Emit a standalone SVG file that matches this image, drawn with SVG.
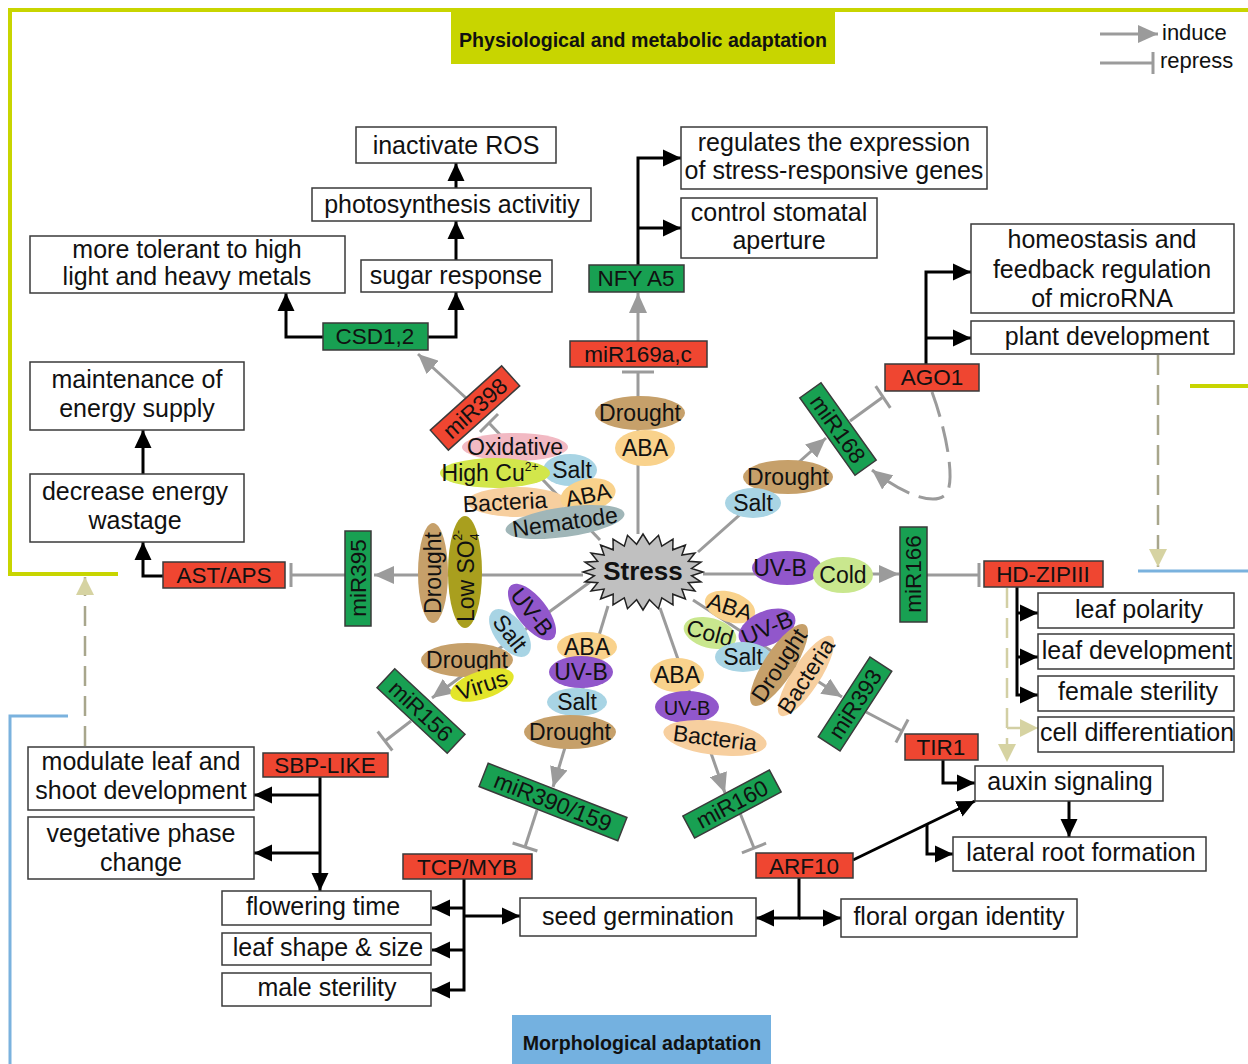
<svg xmlns="http://www.w3.org/2000/svg" width="1248" height="1064" viewBox="0 0 1248 1064">
<defs>
<style>
text{font-family:"Liberation Sans",Arial,sans-serif;fill:#111;text-anchor:middle}
.bt{font-size:25px}
.lt{font-size:22.5px}
.et{font-size:23px}
.hd{font-size:19.6px;font-weight:bold}
.box{fill:#fff;stroke:#3a3a3a;stroke-width:1.5}
.red{fill:#ef4631;stroke:#3a3a3a;stroke-width:1.5}
.grn{fill:#18a052;stroke:#3a3a3a;stroke-width:1.5}
.g{stroke:#9b9b9b;stroke-width:3;fill:none}
.gd{stroke:#9b9b9b;stroke-width:3;fill:none;stroke-dasharray:26 10}
.k{stroke:#000;stroke-width:3;fill:none}
.d{stroke:#a8a68c;stroke-width:2.5;fill:none;stroke-dasharray:20 10}
.d2{stroke:#d2cfa4;stroke-width:2.5;fill:none;stroke-dasharray:20 10}
.dr{fill:#c6a06a}.ab{fill:#f9d28c}.sa{fill:#a8d4e4}.uv{fill:#9157cb}.co{fill:#c9e78e}
.ba{fill:#f7cf9f}.ox{fill:#f2b9c3}.cu{fill:#d2e64b}.ne{fill:#a0b6b8}.so{fill:#a99f1e}.vi{fill:#e3e52b}
</style>
<marker id="mk" viewBox="0 0 18 18" refX="18" refY="9" markerWidth="18" markerHeight="18" markerUnits="userSpaceOnUse" orient="auto"><path d="M0,0.5 L18,9 L0,17.5 z" fill="#000"/></marker>
<marker id="mg" viewBox="0 0 20 18" refX="20" refY="9" markerWidth="20" markerHeight="18" markerUnits="userSpaceOnUse" orient="auto"><path d="M0,0 L20,9 L0,18 z" fill="#9b9b9b"/></marker>
<marker id="mh" viewBox="0 0 18 18" refX="18" refY="9" markerWidth="18" markerHeight="18" markerUnits="userSpaceOnUse" orient="auto"><path d="M0,0 L18,9 L0,18 z" fill="#d6d3a2"/></marker>
</defs>
<rect width="1248" height="1064" fill="#fff"/>

<g id="frames">
<path d="M118,574 H10 V10 H1248" stroke="#c8d500" stroke-width="4" fill="none"/>
<path d="M1190,386 H1248" stroke="#c8d500" stroke-width="4" fill="none"/>
<path d="M68,716 H10 V1064" stroke="#7ab2de" stroke-width="3" fill="none"/>
<path d="M1138,571 H1248" stroke="#7ab2de" stroke-width="3" fill="none"/>
</g>
<g id="title-physio"><rect x="451" y="12" width="384" height="52" fill="#c8d500"/><text class="hd" x="643" y="47">Physiological and metabolic adaptation</text></g>
<g id="title-morph"><rect x="512" y="1015" width="259" height="49" fill="#74b1e0"/><text class="hd" x="642" y="1050">Morphological adaptation</text></g>
<g id="legend">
<line class="g" x1="1100" y1="34" x2="1158" y2="34" marker-end="url(#mg)"/>
<text x="1162" y="40" style="font-size:22px;text-anchor:start">induce</text>
<line class="g" x1="1100" y1="63" x2="1153" y2="63"/>
<line class="g" x1="1153" y1="52" x2="1153" y2="74"/>
<text x="1160" y="68" style="font-size:22px;text-anchor:start">repress</text>
</g>

<g id="connectors">
<line class="g" x1="638" y1="534" x2="638" y2="372"/>
<line class="g" x1="622" y1="372" x2="654" y2="372"/>
<line class="g" x1="638" y1="341" x2="638" y2="293" marker-end="url(#mg)"/>
<line class="g" x1="600" y1="540" x2="489" y2="423"/>
<line class="g" x1="480" y1="432" x2="498" y2="414"/>
<line class="g" x1="466" y1="398" x2="418" y2="354" marker-end="url(#mg)"/>
<line class="g" x1="698" y1="552" x2="826" y2="438" marker-end="url(#mg)"/>
<line class="g" x1="850" y1="421" x2="883" y2="397"/>
<line class="g" x1="875.7" y1="386.2" x2="890.3" y2="407.8"/>
<path class="gd" d="M932,392 C946,430 956,482 946,494 C936,506 905,496 872,470" marker-end="url(#mg)"/>
<line class="g" x1="703" y1="574" x2="899" y2="574" marker-end="url(#mg)"/>
<line class="g" x1="927" y1="575" x2="979" y2="575"/>
<line class="g" x1="979" y1="563" x2="979" y2="587"/>
<line class="g" x1="583" y1="575" x2="374" y2="575" marker-end="url(#mg)"/>
<line class="g" x1="345" y1="575" x2="291" y2="575"/>
<line class="g" x1="291" y1="563" x2="291" y2="587"/>
<line class="g" x1="590" y1="582" x2="432" y2="698" marker-end="url(#mg)"/>
<line class="g" x1="411" y1="721" x2="385" y2="741"/>
<line class="g" x1="377.7" y1="731.5" x2="392.3" y2="750.5"/>
<line class="g" x1="608" y1="606" x2="553" y2="787" marker-end="url(#mg)"/>
<line class="g" x1="537" y1="810" x2="525" y2="847"/>
<line class="g" x1="512.6" y1="843" x2="537.4" y2="851"/>
<line class="g" x1="660" y1="608" x2="725" y2="793" marker-end="url(#mg)"/>
<line class="g" x1="740" y1="813" x2="754" y2="848"/>
<line class="g" x1="741.9" y1="852.8" x2="766.1" y2="843.2"/>
<line class="g" x1="693" y1="600" x2="842" y2="697" marker-end="url(#mg)"/>
<line class="g" x1="866" y1="712" x2="902" y2="731"/>
<line class="g" x1="908.1" y1="719.5" x2="895.9" y2="742.5"/>
<path class="k" d="M323,337 H286 V293" marker-end="url(#mk)"/>
<path class="k" d="M428,337 H456 V292" marker-end="url(#mk)"/>
<path class="k" d="M456,260 V221" marker-end="url(#mk)"/>
<path class="k" d="M456,188 V163" marker-end="url(#mk)"/>
<path class="k" d="M638,265 V158 H681" marker-end="url(#mk)"/>
<path class="k" d="M638,228 H681" marker-end="url(#mk)"/>
<path class="k" d="M926,364 V272 H971" marker-end="url(#mk)"/>
<path class="k" d="M926,338 H971" marker-end="url(#mk)"/>
<path class="k" d="M163,576 H143 V542" marker-end="url(#mk)"/>
<path class="k" d="M143,474 V430" marker-end="url(#mk)"/>
<path class="k" d="M320,777 V891" marker-end="url(#mk)"/>
<path class="k" d="M320,795 H254" marker-end="url(#mk)"/>
<path class="k" d="M320,853 H254" marker-end="url(#mk)"/>
<path class="k" d="M464,879 V990 H432" marker-end="url(#mk)"/>
<path class="k" d="M464,908 H432" marker-end="url(#mk)"/>
<path class="k" d="M464,950 H432" marker-end="url(#mk)"/>
<path class="k" d="M464,916 H520" marker-end="url(#mk)"/>
<path class="k" d="M799,878 V918 H756" marker-end="url(#mk)"/>
<path class="k" d="M799,918 H841" marker-end="url(#mk)"/>
<path class="k" d="M853,860 L975,801" marker-end="url(#mk)"/>
<path class="k" d="M927,824 V854 H953" marker-end="url(#mk)"/>
<path class="k" d="M943,760 V783 H975" marker-end="url(#mk)"/>
<path class="k" d="M1069,801 V837" marker-end="url(#mk)"/>
<path class="k" d="M1017,587 V695 H1038" marker-end="url(#mk)"/>
<path class="k" d="M1017,613 H1038" marker-end="url(#mk)"/>
<path class="k" d="M1017,657 H1038" marker-end="url(#mk)"/>
<path class="d" d="M1158,355 V567" marker-end="url(#mh)"/>
<path class="d2" d="M1007,588 V762" marker-end="url(#mh)"/>
<path class="d2" d="M1007,728 H1038" marker-end="url(#mh)"/>
<path class="d" d="M85,746 V577" marker-end="url(#mh)"/>
</g>

<g id="stress">
<polygon points="703,572 691.6,575.7 701,581.8 688.3,582.7 695,591 681.9,589.1 685.4,598.9 672.8,594.2 673,604.9 661.8,597.9 658.5,608.7 649.4,599.8 643,610 636.6,599.8 627.5,608.7 624.3,597.9 613,604.9 613.2,594.2 600.6,598.9 604.1,589.1 591,591 597.7,582.7 585,581.8 594.4,575.7 583,572 594.4,568.4 585,562.2 597.7,561.3 591,553 604.1,555 600.6,545.1 613.2,549.8 613,539.1 624.3,546.1 627.5,535.3 636.6,544.2 643,534 649.4,544.2 658.5,535.3 661.8,546.1 673,539.1 672.8,549.8 685.4,545.1 681.9,555 695,553 688.3,561.3 701,562.2 691.6,568.4" fill="#c0c0c0" stroke="#222" stroke-width="1.5"/>
<text x="643" y="580" style="font-size:26px;font-weight:bold">Stress</text>
</g>

<g id="f-drought-top"><ellipse class="dr" cx="640" cy="413" rx="45" ry="17"/><text class="et" x="640" y="421">Drought</text></g>
<g id="f-aba-top"><ellipse class="ab" cx="645" cy="448" rx="30" ry="18"/><text class="et" x="645" y="456">ABA</text></g>

<g id="f-oxidative"><ellipse class="ox" cx="515" cy="447" rx="53" ry="14"/><text class="et" x="515" y="455">Oxidative</text></g>
<g id="f-salt-ul"><ellipse class="sa" cx="570" cy="470" rx="27" ry="16"/><text class="et" x="572" y="478">Salt</text></g>
<g id="f-highcu"><ellipse class="cu" cx="495" cy="473" rx="55" ry="15"/><text class="et" x="490" y="481">High Cu<tspan font-size="12" dy="-10">2+</tspan></text></g>
<g id="f-bacteria-ul"><ellipse class="ba" cx="517" cy="502" rx="50" ry="15"/><text class="et" x="505" y="510" transform="rotate(-3 505 502)">Bacteria</text></g>
<g id="f-aba-ul" transform="translate(588,495) rotate(-12)"><ellipse class="ab" rx="28" ry="16"/><text class="et" y="8">ABA</text></g>
<g id="f-nematode" transform="translate(565,522) rotate(-8)"><ellipse class="ne" rx="60" ry="15"/><text class="et" y="8">Nematode</text></g>

<g id="f-drought-left" transform="translate(433,573) rotate(-90)"><ellipse class="dr" rx="50" ry="15"/><text class="et" y="8">Drought</text></g>
<g id="f-lowso4" transform="translate(465,572) rotate(-90)"><ellipse class="so" rx="56" ry="17"/><text class="et" x="-4" y="9">Low SO<tspan font-size="12" dy="5">4</tspan><tspan font-size="12" dx="-7" dy="-17">2-</tspan></text></g>

<g id="f-salt-ll" transform="translate(510,633) rotate(52)"><ellipse class="sa" rx="28" ry="15"/><text class="et" y="8">Salt</text></g>
<g id="f-uvb-ll" transform="translate(532,612) rotate(52)"><ellipse class="uv" rx="34" ry="15"/><text class="et" y="8">UV-B</text></g>
<g id="f-drought-ll"><ellipse class="dr" cx="467" cy="660" rx="46" ry="17"/><text class="et" x="467" y="668">Drought</text></g>
<g id="f-virus" transform="translate(482,685) rotate(-18)"><ellipse class="vi" rx="33" ry="14"/><text class="et" y="8">Virus</text></g>

<g id="f-aba-lm"><ellipse class="ab" cx="587" cy="647" rx="30" ry="15"/><text class="et" x="587" y="655">ABA</text></g>
<g id="f-uvb-lm"><ellipse class="uv" cx="581" cy="672" rx="32" ry="16"/><text class="et" x="581" y="680">UV-B</text></g>
<g id="f-salt-lm"><ellipse class="sa" cx="577" cy="702" rx="30" ry="14"/><text class="et" x="577" y="710">Salt</text></g>
<g id="f-drought-lm"><ellipse class="dr" cx="570" cy="732" rx="46" ry="17"/><text class="et" x="570" y="740">Drought</text></g>

<g id="f-aba-lr"><ellipse class="ab" cx="677" cy="675" rx="27" ry="17"/><text class="et" x="677" y="683">ABA</text></g>
<g id="f-uvb-lr"><ellipse class="uv" cx="687" cy="707" rx="32" ry="16"/><text class="et" x="687" y="715" style="font-size:20px">UV-B</text></g>
<g id="f-bacteria-lr" transform="translate(715,738) rotate(7)"><ellipse class="ba" rx="52" ry="17"/><text class="et" y="8">Bacteria</text></g>

<g id="f-aba-r" transform="translate(730,607) rotate(18)"><ellipse class="ab" rx="26" ry="15"/><text class="et" y="8">ABA</text></g>
<g id="f-cold-r" transform="translate(710,633) rotate(15)"><ellipse class="co" rx="27" ry="15"/><text class="et" y="8">Cold</text></g>
<g id="f-uvb-r" transform="translate(767,628) rotate(-23)"><ellipse class="uv" rx="30" ry="17"/><text class="et" y="8">UV-B</text></g>
<g id="f-salt-r"><ellipse class="sa" cx="743" cy="657" rx="28" ry="15"/><text class="et" x="743" y="665">Salt</text></g>
<g id="f-bacteria-r" transform="translate(806,676) rotate(-57)"><ellipse class="ba" rx="47" ry="14"/><text class="et" y="8">Bacteria</text></g>
<g id="f-drought-r" transform="translate(779,665) rotate(-57)"><ellipse class="dr" rx="48" ry="15"/><text class="et" y="8">Drought</text></g>

<g id="f-uvb-right"><ellipse class="uv" cx="787" cy="568" rx="35" ry="17"/><text class="et" x="780" y="576">UV-B</text></g>
<g id="f-cold-right"><ellipse class="co" cx="843" cy="575" rx="30" ry="18"/><text class="et" x="843" y="583">Cold</text></g>

<g id="f-drought-ur"><ellipse class="dr" cx="788" cy="477" rx="45" ry="17"/><text class="et" x="788" y="485">Drought</text></g>
<g id="f-salt-ur"><ellipse class="sa" cx="753" cy="503" rx="28" ry="15"/><text class="et" x="753" y="511">Salt</text></g>

<g id="n-csd12"><rect class="grn" x="323" y="323" width="105" height="27"/><text class="lt" x="375" y="344">CSD1,2</text></g>
<g id="n-nfya5"><rect class="grn" x="589" y="265" width="95" height="27"/><text class="lt" x="636" y="286">NFY A5</text></g>
<g id="n-mir169"><rect class="red" x="570" y="341" width="137" height="26"/><text class="lt" x="638" y="362">miR169a,c</text></g>
<g id="n-ago1"><rect class="red" x="885" y="364" width="94" height="27"/><text class="lt" x="932" y="385">AGO1</text></g>
<g id="n-mir395"><rect class="grn" x="345" y="531" width="26" height="95"/><text class="lt" transform="translate(358,578) rotate(-90)" y="8">miR395</text></g>
<g id="n-astaps"><rect class="red" x="163" y="562" width="122" height="26"/><text class="lt" x="224" y="583">AST/APS</text></g>
<g id="n-mir166"><rect class="grn" x="900" y="527" width="27" height="95"/><text class="lt" transform="translate(913,574) rotate(-90)" y="8">miR166</text></g>
<g id="n-hdzip"><rect class="red" x="984" y="561" width="119" height="26"/><text class="lt" x="1043" y="582">HD-ZIPIII</text></g>
<g id="n-tir1"><rect class="red" x="905" y="734" width="73" height="26"/><text class="lt" x="941" y="755">TIR1</text></g>
<g id="n-sbp"><rect class="red" x="263" y="753" width="125" height="24"/><text class="lt" x="325" y="773">SBP-LIKE</text></g>
<g id="n-tcpmyb"><rect class="red" x="403" y="854" width="129" height="25"/><text class="lt" x="467" y="875">TCP/MYB</text></g>
<g id="n-arf10"><rect class="red" x="756" y="853" width="97" height="25"/><text class="lt" x="804" y="874">ARF10</text></g>
<g id="n-mir398" transform="translate(475,408) rotate(-42)"><rect class="red" x="-48" y="-13.5" width="96" height="27"/><text class="lt" y="8">miR398</text></g>
<g id="n-mir168" transform="translate(838,429) rotate(54.5)"><rect class="grn" x="-47.5" y="-13" width="95" height="26"/><text class="lt" y="8">miR168</text></g>
<g id="n-mir156" transform="translate(421,711) rotate(43)"><rect class="grn" x="-48" y="-13" width="96" height="26"/><text class="lt" y="8">miR156</text></g>
<g id="n-mir390" transform="translate(553,802) rotate(21.4)"><rect class="grn" x="-74.5" y="-12.5" width="149" height="25"/><text class="lt" y="8" style="font-size:23px">miR390/159</text></g>
<g id="n-mir160" transform="translate(732,804) rotate(-28)"><rect class="grn" x="-49" y="-12.5" width="98" height="25"/><text class="lt" y="8">miR160</text></g>
<g id="n-mir393" transform="translate(855,704) rotate(-57)"><rect class="grn" x="-47.5" y="-13" width="95" height="26"/><text class="lt" y="8">miR393</text></g>

<g id="b-ros"><rect class="box" x="356" y="127" width="200" height="36"/><text class="bt" x="456" y="154">inactivate ROS</text></g>
<g id="b-photo"><rect class="box" x="312" y="188" width="279" height="33"/><text class="bt" x="452" y="213">photosynthesis activitiy</text></g>
<g id="b-tolerant"><rect class="box" x="30" y="236" width="315" height="57"/><text class="bt" x="187" y="258">more tolerant to high</text><text class="bt" x="187" y="285">light and heavy metals</text></g>
<g id="b-sugar"><rect class="box" x="361" y="260" width="191" height="32"/><text class="bt" x="456" y="284">sugar response</text></g>
<g id="b-regulates"><rect class="box" x="681" y="127" width="306" height="62"/><text class="bt" x="834" y="151">regulates the expression</text><text class="bt" x="834" y="179">of stress-responsive genes</text></g>
<g id="b-stomatal"><rect class="box" x="681" y="198" width="196" height="60"/><text class="bt" x="779" y="221">control stomatal</text><text class="bt" x="779" y="249">aperture</text></g>
<g id="b-homeostasis"><rect class="box" x="971" y="224" width="263" height="89"/><text class="bt" x="1102" y="248">homeostasis and</text><text class="bt" x="1102" y="278">feedback regulation</text><text class="bt" x="1102" y="307">of microRNA</text></g>
<g id="b-plantdev"><rect class="box" x="971" y="321" width="263" height="33"/><text class="bt" x="1107" y="345">plant development</text></g>
<g id="b-maintenance"><rect class="box" x="30" y="362" width="214" height="68"/><text class="bt" x="137" y="388">maintenance of</text><text class="bt" x="137" y="417">energy supply</text></g>
<g id="b-decrease"><rect class="box" x="30" y="474" width="214" height="68"/><text class="bt" x="135" y="500">decrease energy</text><text class="bt" x="135" y="529">wastage</text></g>
<g id="b-modulate"><rect class="box" x="28" y="747" width="226" height="63"/><text class="bt" x="141" y="770">modulate leaf and</text><text class="bt" x="141" y="799">shoot development</text></g>
<g id="b-vegetative"><rect class="box" x="28" y="817" width="226" height="62"/><text class="bt" x="141" y="842">vegetative phase</text><text class="bt" x="141" y="871">change</text></g>
<g id="b-flowering"><rect class="box" x="222" y="891" width="209" height="34"/><text class="bt" x="323" y="915">flowering time</text></g>
<g id="b-leafshape"><rect class="box" x="222" y="933" width="209" height="32"/><text class="bt" x="328" y="956">leaf shape &amp; size</text></g>
<g id="b-malester"><rect class="box" x="222" y="973" width="209" height="33"/><text class="bt" x="327" y="996">male sterility</text></g>
<g id="b-seed"><rect class="box" x="520" y="898" width="236" height="38"/><text class="bt" x="638" y="925">seed germination</text></g>
<g id="b-floral"><rect class="box" x="841" y="899" width="236" height="38"/><text class="bt" x="959" y="925">floral organ identity</text></g>
<g id="b-lateral"><rect class="box" x="953" y="837" width="253" height="34"/><text class="bt" x="1081" y="861">lateral root formation</text></g>
<g id="b-auxin"><rect class="box" x="975" y="766" width="188" height="35"/><text class="bt" x="1070" y="790">auxin signaling</text></g>
<g id="b-leafpol"><rect class="box" x="1038" y="593" width="196" height="35"/><text class="bt" x="1139" y="618">leaf polarity</text></g>
<g id="b-leafdev"><rect class="box" x="1038" y="634" width="196" height="35"/><text class="bt" x="1137" y="659">leaf development</text></g>
<g id="b-femster"><rect class="box" x="1038" y="676" width="196" height="35"/><text class="bt" x="1138" y="700">female sterility</text></g>
<g id="b-celldiff"><rect class="box" x="1038" y="717" width="196" height="35"/><text class="bt" x="1137" y="741">cell differentiation</text></g>
</svg>
